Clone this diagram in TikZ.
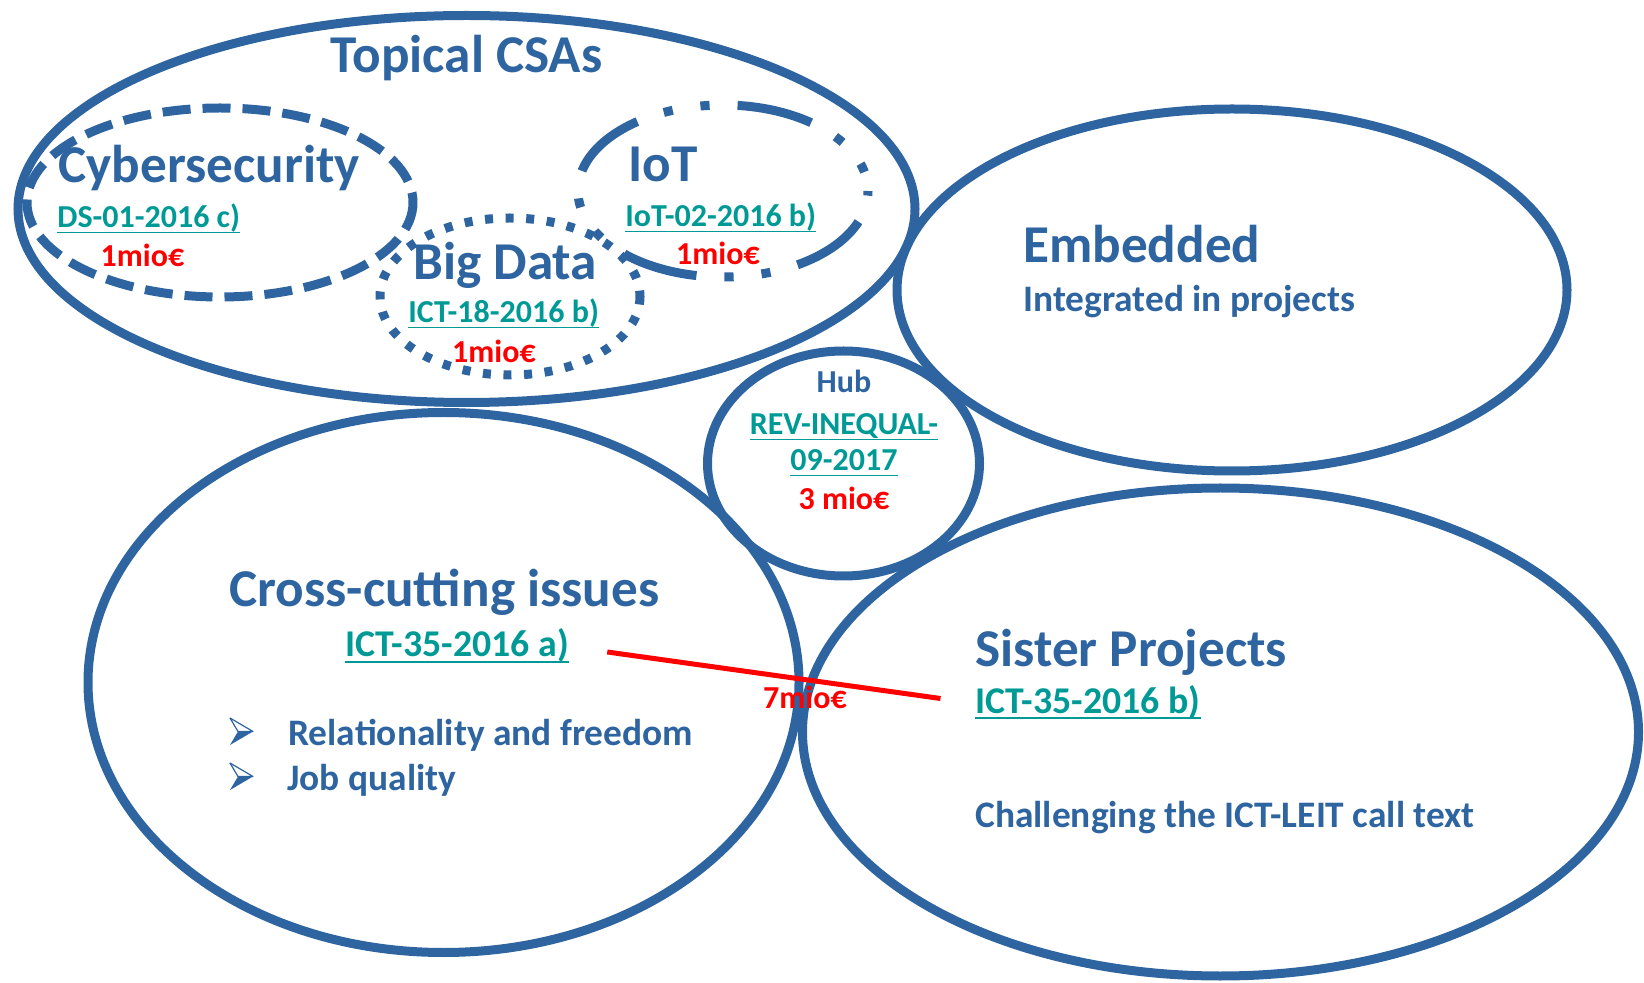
\documentclass[tikz,border=0pt]{standalone}
\usepackage{fontspec}
\setmainfont{Carlito}
\usetikzlibrary{positioning}

\definecolor{csablue}{HTML}{2E64A0}
\definecolor{callteal}{HTML}{009A96}
\definecolor{budgetred}{HTML}{FF0000}

\newcommand{\calllink}[1]{\setbox0\hbox{#1}\rlap{\rule[-0.17em]{\wd0}{0.06em}}\box0}

\tikzset{
    ring/.style={draw=csablue, line width=4.5pt},
    head/.style={text=csablue, inner sep=0pt, font=\fontsize{26.6}{30}\selectfont\bfseries},
    subhead/.style={text=csablue, inner sep=0pt, font=\fontsize{18.7}{22}\selectfont\bfseries},
    hubhead/.style={text=csablue, inner sep=0pt, font=\fontsize{16}{19}\selectfont\bfseries},
    callcode/.style={text=callteal, inner sep=0pt, font=\fontsize{16}{19}\selectfont\bfseries},
    bigcode/.style={text=callteal, inner sep=0pt, font=\fontsize{18.9}{22}\selectfont\bfseries},
    budget/.style={text=budgetred, inner sep=0pt, font=\fontsize{16}{19}\selectfont\bfseries},
    listarrow/.pic={
        \draw [csablue, line width=0.6pt, fill=white, line join=round] (0,-27) -- (23,-13.5) -- (8,-13.5) -- cycle;
        \fill [csablue] (8,-13.5) -- (23,-13.5) -- (0,0) -- cycle;
    }
}

\begin{document}
\begin{tikzpicture}[x=0.5pt, y=-0.5pt]
    \useasboundingbox (0,0) rectangle (1644,983);

    % the circles
    \coordinate (csa) at (466.5,209);
    \coordinate (cyb) at (220,202.5);
    \coordinate (iot) at (723,191);
    \coordinate (bigd) at (510,296.5);
    \coordinate (emb) at (1232,290);
    \coordinate (hub) at (843.5,463.5);
    \coordinate (cross) at (443.5,682.5);
    \coordinate (sister) at (1220.5,732);

    \draw [ring] (csa) ellipse (448.5 and 193.5);
    \draw [ring, dash pattern=on 14pt off 6pt] (cyb) ellipse (193 and 94.5);
    \draw [ring, dash pattern=on 4.6pt off 14pt on 38pt off 14pt on 4.6pt off 14pt,
        dash phase=2.3pt] (iot) ellipse (145 and 86);
    \draw [ring, dash pattern=on 4pt off 6.3pt] (bigd) ellipse (130 and 78.5);
    \draw [ring] (emb) ellipse (335 and 181);
    \draw [ring] (hub) ellipse (136 and 112.5);
    \draw [ring] (cross) ellipse (355.5 and 270);
    \draw [ring] (sister) ellipse (418 and 244);

    % topical CSAs
    \node [head, anchor=base] (topical) at (466.5,72.7) {Topical CSAs};
    \node [head, anchor=base west] (cyber) at (58,183) {Cybersecurity};
    \node [callcode, anchor=base west] (dscall) at (57,228) {\calllink{DS-01-2016 c)}};
    \node [budget, anchor=base] (cybmio) at (142.5,267) {1mio€};
    \node [head, anchor=base west] (iotname) at (628,182) {IoT};
    \node [callcode, anchor=base west] (iotcall) at (625,227) {\calllink{IoT-02-2016 b)}};
    \node [budget, anchor=base] (iotmio) at (718,265) {1mio€};
    \node [head, anchor=base west] (bigdata) at (413,280) {Big Data};
    \node [callcode, anchor=base west] (bdcall) at (408,323) {\calllink{ICT-18-2016 b)}};
    \node [budget, anchor=base] (bdmio) at (494,363) {1mio€};

    % embedded
    \node [head, anchor=base west] (embedded) at (1023,263) {Embedded};
    \node [subhead, anchor=base west] (integr) at (1023,312) {Integrated in projects};

    % hub
    \node [hubhead, anchor=base] (hubname) at (844,393) {Hub};
    \node [callcode, anchor=base] (revcall) at (844,435) {\calllink{REV-INEQUAL-}};
    \node [callcode, anchor=base] (revyear) at (844,471) {\calllink{09-2017}};
    \node [budget, anchor=base] (hubmio) at (844,510) {3 mio€};

    % cross-cutting issues
    \node [head, anchor=base west] (crossname) at (229,607) {Cross-cutting issues};
    \node [bigcode, anchor=base west] (ictA) at (345,657) {\calllink{ICT-35-2016 a)}};
    \node [subhead, anchor=base west] (relat) at (288,745) {Relationality and freedom};
    \node [subhead, anchor=base west] (jobq) at (287,790) {Job quality};
    \pic at ([shift={(-58,0)}]relat.base west) {listarrow};
    \pic at ([shift={(-57,0)}]jobq.base west) {listarrow};

    % sister projects
    \node [head, anchor=base west] (sistname) at (975,667) {Sister Projects};
    \node [bigcode, anchor=base west] (ictB) at (975,713) {\calllink{ICT-35-2016 b)}};
    \node [subhead, anchor=base west] (chall) at (975,827) {Challenging the ICT-LEIT call text};

    \draw [budgetred, line width=2.5pt] ([shift={(38,-5)}]ictA.base east) -- ([shift={(-34.5,-14.5)}]ictB.base west);
    \node [budget, anchor=base] (crossmio) at (805,709) {7mio€};
\end{tikzpicture}
\end{document}
